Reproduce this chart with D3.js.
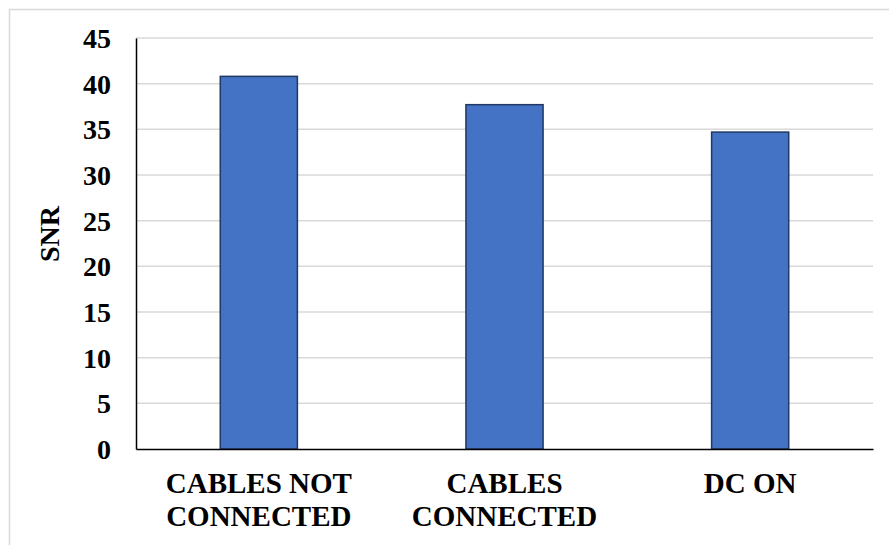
<!DOCTYPE html>
<html>
<head>
<meta charset="utf-8">
<script src="https://cdn.jsdelivr.net/npm/d3@7"></script>
<style>
  html, body { margin: 0; padding: 0; background: #fff; }
  svg { display: block; }
</style>
</head>
<body>
<svg id="chart" width="889" height="545"></svg>
<script>
// Categories (each split into lines for the axis) and SNR values
const categories = ["CABLES NOT CONNECTED", "CABLES CONNECTED", "DC ON"];
const categoryLines = [["CABLES NOT", "CONNECTED"], ["CABLES", "CONNECTED"], ["DC ON"]];
const snrValues = [40.8, 37.7, 34.7];
const yTicks = [0, 5, 10, 15, 20, 25, 30, 35, 40, 45];
const yLabel = "SNR";

const FONT = "'Liberation Serif', Tinos, 'Times New Roman', Times, serif";

const W = 889, H = 545;
const margin = { top: 38, right: 16, bottom: 96, left: 136 };
const innerW = W - margin.left - margin.right;
const innerH = H - margin.top - margin.bottom;

const svg = d3.select("#chart");

// outer chart frame
svg.append("rect")
  .attr("x", 9.5).attr("y", 9.5)
  .attr("width", 1000).attr("height", 1000)
  .attr("fill", "none").attr("stroke", "#d9d9d9").attr("stroke-width", 1.5);

const g = svg.append("g").attr("transform", `translate(${margin.left},${margin.top})`);

const x = d3.scaleBand().domain(categories).range([0, innerW]).paddingInner(0.686).paddingOuter(0.343);
const y = d3.scaleLinear().domain([0, 45]).range([innerH, 0]);

// horizontal gridlines
g.append("g")
  .selectAll("line")
  .data(yTicks.filter(t => t > 0))
  .join("line")
  .attr("x1", 0).attr("x2", innerW)
  .attr("y1", d => y(d)).attr("y2", d => y(d))
  .attr("stroke", "#d9d9d9").attr("stroke-width", 1.5);

// bars
g.append("g")
  .selectAll("rect")
  .data(snrValues)
  .join("rect")
  .attr("x", (d, i) => x(categories[i]))
  .attr("y", d => y(d))
  .attr("width", x.bandwidth())
  .attr("height", d => innerH - y(d))
  .attr("fill", "#4472c4")
  .attr("stroke", "#1f3864")
  .attr("stroke-width", 1.5);

// y axis
const yAxis = g.append("g")
  .call(d3.axisLeft(y).tickValues(yTicks).tickSize(0).tickPadding(25));
yAxis.attr("font-family", FONT).attr("font-size", 28).attr("font-weight", "bold");
yAxis.select(".domain").attr("stroke", "#000").attr("stroke-width", 1.5);
yAxis.selectAll("text").attr("fill", "#000").attr("dy", "0.34em");

// x axis
const xAxis = g.append("g")
  .attr("transform", `translate(0,${innerH})`)
  .call(d3.axisBottom(x).tickSize(0).tickFormat(""));
xAxis.attr("font-family", FONT).attr("font-size", 29).attr("font-weight", "bold");
xAxis.select(".domain").attr("stroke", "#000").attr("stroke-width", 1.5);
xAxis.selectAll(".tick").each(function(d, i) {
  const t = d3.select(this).append("text")
    .attr("text-anchor", "middle")
    .attr("fill", "#000");
  categoryLines[i].forEach((line, j) => {
    t.append("tspan").attr("x", 0).attr("y", 44 + j * 33).text(line);
  });
});

// y axis title
svg.append("text")
  .attr("transform", `translate(49,234) rotate(-90)`)
  .attr("text-anchor", "middle")
  .attr("dy", "0.34em")
  .attr("font-family", FONT)
  .attr("font-weight", "bold")
  .attr("font-size", 28)
  .attr("fill", "#000")
  .text(yLabel);
</script>
</body>
</html>
